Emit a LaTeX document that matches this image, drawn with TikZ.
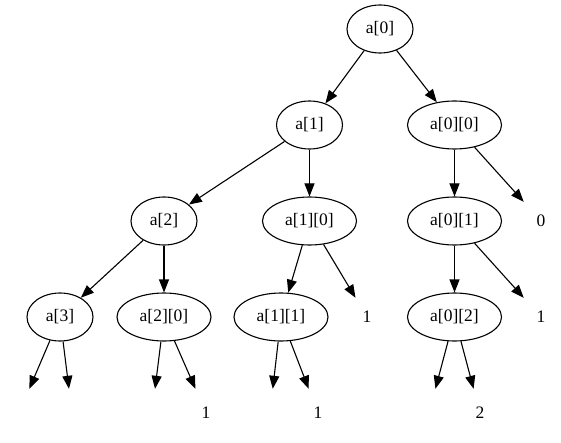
\documentclass[tikz,border=0pt]{standalone}
\usepackage{fontspec}
\setmainfont{Liberation Serif}
\usetikzlibrary{shapes.geometric,arrows.meta}
\tikzset{
  ell/.style={ellipse, draw, line width=1.1pt, minimum width=66pt, minimum height=48pt, inner sep=0pt, font=\fontsize{17.5}{20}\selectfont},
  wide/.style={ell, minimum width=94pt},
  leaf/.style={rectangle, minimum width=40pt, minimum height=48pt, inner sep=0pt, font=\fontsize{17.5}{20}\selectfont},
  side/.style={leaf, minimum width=44pt, minimum height=38pt},
  edge/.style={line width=1.1pt, -{Triangle[length=13pt, width=10pt]}}
}
\begin{document}
\begin{tikzpicture}[x=1pt, y=-1pt]
\useasboundingbox (0,0) rectangle (561,443);
% row 1
\node[ell] (a0) at (380,29) {a[0]};
% row 2
\node[ell] (a1) at (309.5,125) {a[1]};
\node[wide] (a00) at (454.5,125) {a[0][0]};
% row 3
\node[ell] (a2) at (164,221) {a[2]};
\node[wide] (a10) at (309.5,221) {a[1][0]};
\node[wide] (a01) at (454.5,221) {a[0][1]};
\node[side] (z0) at (541,221) {0};
% row 4
\node[ell] (a3) at (60,317) {a[3]};
\node[wide] (a20) at (164,317) {a[2][0]};
\node[wide] (a11) at (281,317) {a[1][1]};
\node[side] (o1) at (367,317) {1};
\node[wide] (a02) at (454.5,317) {a[0][2]};
\node[side] (o2) at (541,317) {1};
% row 5
\node[leaf] (l1) at (19,413) {};
\node[leaf] (l2) at (72,413) {};
\node[leaf] (l3) at (152,413) {};
\node[leaf] (l4) at (206,413) {1};
\node[leaf] (l5) at (270,413) {};
\node[leaf] (l6) at (318,413) {1};
\node[leaf] (l7) at (429,413) {};
\node[leaf] (l8) at (480,413) {2};
% edges
\draw[edge] (a0) -- (a1);
\draw[edge] (a0) -- (a00);
\draw[edge] (a1) -- (a2);
\draw[edge] (a1) -- (a10);
\draw[edge] (a00) -- (a01);
\draw[edge] (a00) -- (z0);
\draw[edge] (a2) -- (a3);
\draw[edge] (a2) -- (a20);
\draw[edge] (a10) -- (a11);
\draw[edge] (a10) -- (o1);
\draw[edge] (a01) -- (a02);
\draw[edge] (a01) -- (o2);
\draw[edge] (a3) -- (l1);
\draw[edge] (a3) -- (l2);
\draw[edge] (a20) -- (l3);
\draw[edge] (a20) -- (l4);
\draw[edge] (a11) -- (l5);
\draw[edge] (a11) -- (l6);
\draw[edge] (a02) -- (l7);
\draw[edge] (a02) -- (l8);
\end{tikzpicture}
\end{document}
